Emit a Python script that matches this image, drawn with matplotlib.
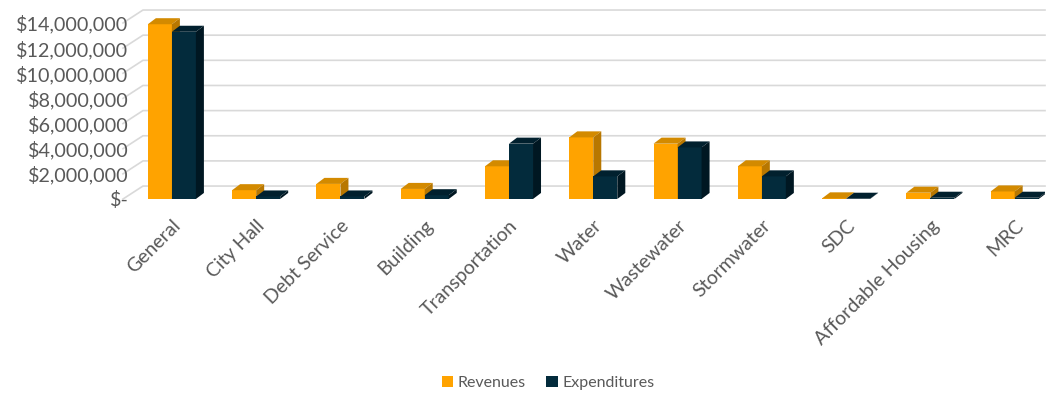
from matplotlib import pyplot as plt
from matplotlib.patches import Polygon
from matplotlib.ticker import FuncFormatter

categories = ["General", "City Hall", "Debt Service", "Building", "Transportation", "Water",
              "Wastewater", "Stormwater", "SDC", "Affordable Housing", "MRC"]
revenues = [13900000, 700000, 1200000, 800000, 2600000, 4900000, 4400000, 2600000, 50000, 500000, 600000]
expenditures = [13300000, 200000, 200000, 300000, 4400000, 1800000, 4100000, 1800000, 20000, 100000, 100000]
yticks = [0, 2000000, 4000000, 6000000, 8000000, 10000000, 12000000, 14000000]

orange = "#FFA300"
orange_top = "#D38A00"
orange_side = "#B87700"
navy = "#032B3C"
navy_top = "#01202E"
navy_side = "#001722"
gray = "#595959"

plt.rcParams['font.family'] = ['Lato', 'DejaVu Sans']

fig = plt.figure(figsize=(10.62, 3.96), dpi=100)
ax = fig.add_axes([123 / 1062, 197 / 396, 922 / 1062, 194 / 396])

xmin, xmax = -0.58, 10.36
ymax = 15.43e6
ax.set_xlim(xmin, xmax)
ax.set_ylim(0, ymax)

w = 0.285
ddx = 0.095   # depth offset of bar tops/sides
ddy = 0.48e6
gdx = 0.237   # back wall offset
gdy = 1.03e6

# gridlines on the back wall, with the short diagonal on the side wall
for v in yticks:
    ax.plot([xmin, xmin + gdx, xmax], [v, v + gdy, v + gdy], color="#D9D9D9", lw=1.2, zorder=1,
            clip_on=False)


def bar3d(x, h, front, top, side, z):
    ax.bar(x, h, width=w, color=front, zorder=z, linewidth=0)
    l, r = x - w / 2, x + w / 2
    ax.add_patch(Polygon([(l, h), (r, h), (r + ddx, h + ddy), (l + ddx, h + ddy)],
                         closed=True, color=top, zorder=z, lw=0))
    ax.add_patch(Polygon([(r, 0), (r + ddx, ddy), (r + ddx, h + ddy), (r, h)],
                         closed=True, color=side, zorder=z, lw=0))


for i in range(len(categories)):
    bar3d(i - w / 2, revenues[i], orange, orange_top, orange_side, 3)
    bar3d(i + w / 2, expenditures[i], navy, navy_top, navy_side, 4)

ax.set_yticks(yticks)
ax.yaxis.set_major_formatter(FuncFormatter(lambda v, p: "$-" if v == 0 else "${:,.0f}".format(v)))
ax.set_xticks(range(len(categories)))
ax.set_xticklabels(categories, rotation=45, ha="right", va="top", rotation_mode="anchor")
ax.tick_params(axis="x", length=0, pad=13, labelsize=14, labelcolor=gray)
ax.tick_params(axis="y", length=0, pad=-4, labelsize=14.2, labelcolor=gray)
for s in ax.spines.values():
    s.set_visible(False)

ax.bar([0], [0], color=orange, label="Revenues")
ax.bar([0], [0], color=navy, label="Expenditures")
leg = fig.legend(loc="center", bbox_to_anchor=(548 / 1062, 1 - 383 / 396), ncol=2, frameon=False,
                 fontsize=11.5, handlelength=0.7, handleheight=0.7, handletextpad=0.3, columnspacing=1.3)
for t in leg.get_texts():
    t.set_color(gray)

plt.savefig("out.png", dpi=100)
